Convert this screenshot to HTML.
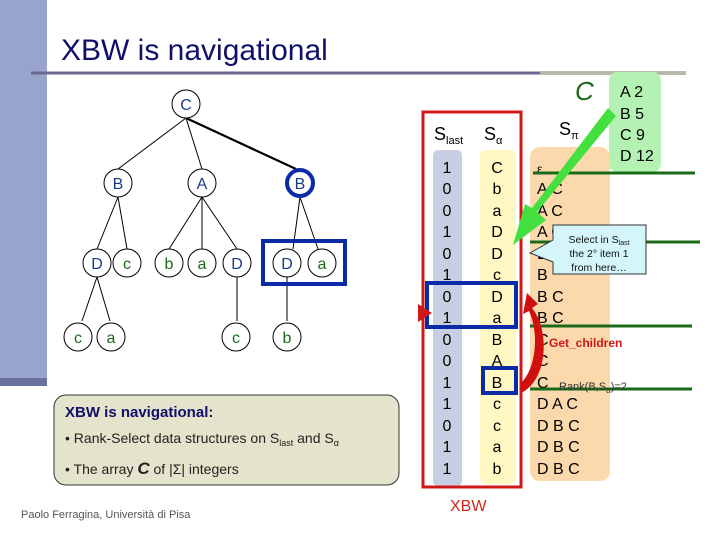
<!DOCTYPE html>
<html><head><meta charset="utf-8"><style>
body{margin:0;width:720px;height:540px;overflow:hidden;background:#fff}
svg{display:block}
</style></head><body>
<svg width="720" height="540" viewBox="0 0 720 540" xmlns="http://www.w3.org/2000/svg" font-family="Liberation Sans, DejaVu Sans, sans-serif">
<rect x="0" y="0" width="47" height="378" fill="#98a4cc"/>
<rect x="0" y="378" width="47" height="8" fill="#6a72a0"/>
<line x1="31" y1="73" x2="540" y2="73" stroke="#6a6a90" stroke-width="3"/>
<line x1="540" y1="73" x2="686" y2="73" stroke="#b8b8a8" stroke-width="4"/>
<text x="61" y="60" font-size="30" fill="#10106a">XBW is navigational</text>

<!-- tree edges -->
<g stroke="#000" stroke-width="1">
<line x1="186" y1="118" x2="118" y2="169"/>
<line x1="186" y1="118" x2="202" y2="169"/>
<line x1="118" y1="197" x2="97" y2="249"/>
<line x1="118" y1="197" x2="127" y2="249"/>
<line x1="202" y1="197" x2="169" y2="249"/>
<line x1="202" y1="197" x2="202" y2="249"/>
<line x1="202" y1="197" x2="237" y2="249"/>
<line x1="300" y1="197" x2="293" y2="249"/>
<line x1="300" y1="197" x2="318" y2="249"/>
<line x1="97" y1="277" x2="82" y2="321"/>
<line x1="97" y1="277" x2="110" y2="321"/>
<line x1="237" y1="277" x2="237" y2="321"/>
<line x1="287" y1="277" x2="287" y2="321"/>
</g>
<line x1="186" y1="118" x2="296" y2="169" stroke="#000" stroke-width="2.2"/>
<g fill="#fff" stroke="#000" stroke-width="1">
<circle cx="186" cy="104" r="14"/><circle cx="118" cy="183" r="14"/><circle cx="202" cy="183" r="14"/>
<circle cx="97" cy="263" r="14"/><circle cx="127" cy="263" r="14"/><circle cx="169" cy="263" r="14"/><circle cx="202" cy="263" r="14"/><circle cx="237" cy="263" r="14"/><circle cx="287" cy="263" r="14"/><circle cx="322" cy="263" r="14"/>
<circle cx="78" cy="337" r="14"/><circle cx="111" cy="337" r="14"/><circle cx="236" cy="337" r="14"/><circle cx="287" cy="337" r="14"/>
</g>
<circle cx="300" cy="183" r="13" fill="#fff" stroke="#0a2aa8" stroke-width="4"/>
<rect x="263" y="241" width="82" height="43" fill="none" stroke="#0a2aa8" stroke-width="4"/>
<g font-size="16" text-anchor="middle" fill="#1a3a8a">
<text x="186" y="110">C</text><text x="118" y="189">B</text><text x="202" y="189">A</text><text x="300" y="189">B</text>
<text x="97" y="269">D</text><text x="237" y="269">D</text><text x="287" y="269">D</text>
</g>
<g font-size="16" text-anchor="middle" fill="#1a6a1a">
<text x="127" y="269">c</text><text x="169" y="269">b</text><text x="202" y="269">a</text><text x="322" y="269">a</text>
<text x="78" y="343">c</text><text x="111" y="343">a</text><text x="236" y="343">c</text><text x="287" y="343">b</text>
</g>

<!-- info box -->
<rect x="54" y="395" width="345" height="90" rx="12" fill="#e4e4cc" stroke="#333" stroke-width="1"/>
<text x="65" y="417" font-size="15" font-weight="bold" fill="#10106a">XBW is navigational:</text>
<text x="65" y="443" font-size="14" fill="#222">• Rank-Select data structures on S<tspan font-size="9" dy="3">last</tspan><tspan dy="-3"> and S</tspan><tspan font-size="9" dy="3">α</tspan></text>
<text x="65" y="474" font-size="14" fill="#222">• The array <tspan font-weight="bold" font-style="italic" font-size="17">C</tspan> of |Σ| integers</text>
<text x="21" y="518" font-size="11" fill="#555">Paolo Ferragina, Università di Pisa</text>

<!-- columns -->
<rect x="433" y="150" width="29" height="336" rx="5" fill="#c8cfe2"/>
<rect x="480" y="150" width="36" height="334" rx="5" fill="#fff8c2"/>
<rect x="530" y="147" width="80" height="334" rx="10" fill="#fbd9ac"/>
<rect x="609" y="72" width="52" height="100" rx="8" fill="#b4f2b4"/>
<rect x="423" y="112" width="98" height="375" fill="none" stroke="#d01818" stroke-width="3"/>
<text x="434" y="140" font-size="18" fill="#000">S<tspan font-size="11" dy="4">last</tspan></text>
<text x="484" y="140" font-size="18" fill="#000">S<tspan font-size="11" dy="4">α</tspan></text>
<text x="559" y="135" font-size="18" fill="#000">S<tspan font-size="11" dy="4">π</tspan></text>
<text x="575" y="100" font-size="26" font-style="italic" fill="#1a6a1a">C</text>
<g font-size="16" fill="#000">
<text x="620" y="97">A 2</text><text x="620" y="119">B 5</text><text x="620" y="140">C 9</text><text x="620" y="161">D 12</text>
</g>
<g font-size="16" text-anchor="middle" fill="#000">
<text x="447" y="173">1</text><text x="447" y="194">0</text><text x="447" y="216">0</text><text x="447" y="237">1</text><text x="447" y="259">0</text><text x="447" y="280">1</text><text x="447" y="302">0</text><text x="447" y="323">1</text><text x="447" y="345">0</text><text x="447" y="366">0</text><text x="447" y="388">1</text><text x="447" y="409">1</text><text x="447" y="431">0</text><text x="447" y="452">1</text><text x="447" y="474">1</text>
<text x="497" y="173">C</text><text x="497" y="194">b</text><text x="497" y="216">a</text><text x="497" y="237">D</text><text x="497" y="259">D</text><text x="497" y="280">c</text><text x="497" y="302">D</text><text x="497" y="323">a</text><text x="497" y="345">B</text><text x="497" y="366">A</text><text x="497" y="388">B</text><text x="497" y="409">c</text><text x="497" y="431">c</text><text x="497" y="452">a</text><text x="497" y="474">b</text>
</g>
<g font-size="16" fill="#000">
<text x="537" y="173" font-size="12">ε</text><text x="537" y="194">A C</text><text x="537" y="216">A C</text><text x="537" y="237">A C</text><text x="537" y="259">B C</text><text x="537" y="280">B</text><text x="537" y="302">B C</text><text x="537" y="323">B C</text><text x="537" y="345">C</text><text x="537" y="366">C</text><text x="537" y="388">C</text><text x="537" y="409">D A C</text><text x="537" y="431">D B C</text><text x="537" y="452">D B C</text><text x="537" y="474">D B C</text>
</g>
<g stroke="#1a6a1a" stroke-width="3">
<line x1="533" y1="173" x2="695" y2="173"/><line x1="530" y1="242" x2="700" y2="242"/><line x1="530" y1="326" x2="692" y2="326"/><line x1="530" y1="389" x2="692" y2="389"/>
</g>
<text x="559" y="390" font-size="11" fill="#333">Rank(B,S<tspan font-size="8" dy="3">α</tspan><tspan dy="-3">)=2</tspan></text>
<text x="549" y="347" font-size="12" font-weight="bold" fill="#d01818">Get_children</text>
<!-- callout -->
<path d="M553,225 H646 V274 H553 V262 L530,253 L553,240 Z" fill="#d4f6fa" stroke="#333" stroke-width="1"/>
<text x="599" y="243" font-size="10.5" text-anchor="middle" fill="#111">Select in S<tspan font-size="7" dy="2">last</tspan></text>
<text x="599" y="257" font-size="10.5" text-anchor="middle" fill="#111">the 2° item 1</text>
<text x="599" y="271" font-size="10.5" text-anchor="middle" fill="#111">from here…</text>
<!-- green arrow -->
<polygon points="608,108 616,116 537,212 546,220 513,245 525,204 532,208" fill="#44e040"/>
<!-- blue boxes -->
<rect x="427" y="283" width="89" height="44" fill="none" stroke="#0a2aa8" stroke-width="4"/>
<rect x="483" y="368" width="33" height="25" fill="none" stroke="#0a2aa8" stroke-width="4"/>
<polygon points="418,304 418,322 432,313" fill="#d01818"/>
<!-- red curved arrow -->
<path d="M521,393 C548,380 550,330 532,308 L538,304 L527,293 L523,314 L529,311 C540,335 535,370 521,383 Z" fill="#d01010"/>
<text x="450" y="511" font-size="16" fill="#d02818">XBW</text>
</svg>
</body></html>
